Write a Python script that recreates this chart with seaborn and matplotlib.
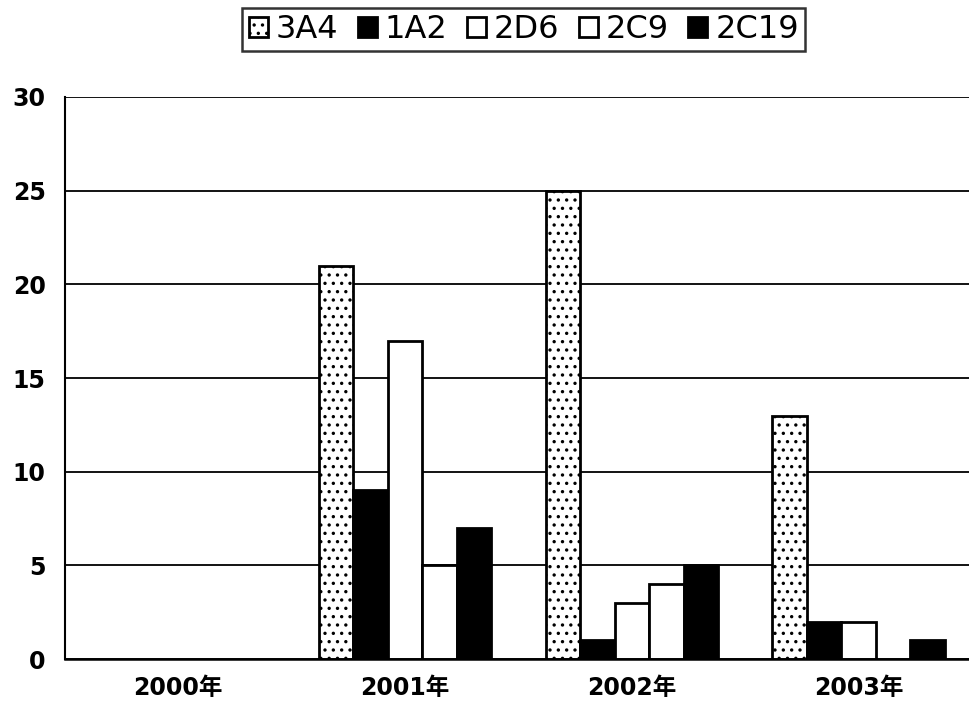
import matplotlib
matplotlib.use("Agg")
import matplotlib.pyplot as plt
import seaborn as sns
import pandas as pd

years = ["2000年", "2001年", "2002年", "2003年"]
series = ["3A4", "1A2", "2D6", "2C9", "2C19"]
v_3A4 = [0, 21, 25, 13]
v_1A2 = [0, 9, 1, 2]
v_2D6 = [0, 17, 3, 2]
v_2C9 = [0, 5, 4, 0]
v_2C19 = [0, 7, 5, 1]
values = {"3A4": v_3A4, "1A2": v_1A2, "2D6": v_2D6, "2C9": v_2C9, "2C19": v_2C19}
y_ticks = [0, 5, 10, 15, 20, 25, 30]

rows = []
for s in series:
    for y, v in zip(years, values[s]):
        rows.append({"year": y, "enzyme": s, "count": v})
df = pd.DataFrame(rows)

sns.set_theme(style="white")
plt.rcParams["font.family"] = ["DejaVu Sans", "Noto Sans CJK JP"]
plt.rcParams["hatch.linewidth"] = 1.2
plt.rcParams["text.color"] = "black"
plt.rcParams["xtick.color"] = "black"
plt.rcParams["ytick.color"] = "black"
plt.rcParams["xtick.labelcolor"] = "black"
plt.rcParams["ytick.labelcolor"] = "black"

fig = plt.figure(figsize=(9.7, 7.18), dpi=100)
ax = fig.add_axes([0.067, 0.082, 0.935, 0.783])

sns.barplot(data=df, x="year", y="count", hue="enzyme", order=years,
            hue_order=series, width=0.76, ax=ax, legend=False, gap=0)

styles = {
    "3A4": dict(fc="white", hatch=".."),
    "1A2": dict(fc="black", hatch=None),
    "2D6": dict(fc="white", hatch=None),
    "2C9": dict(fc="white", hatch=None),
    "2C19": dict(fc="black", hatch=None),
}
for cont, s in zip(ax.containers, series):
    for p in cont.patches:
        p.set_facecolor(styles[s]["fc"])
        p.set_edgecolor("black")
        p.set_linewidth(2)
        p.set_alpha(1)
        if styles[s]["hatch"]:
            p.set_hatch(styles[s]["hatch"])
        if p.get_height() == 0:
            p.set_visible(False)

ax.set_ylim(0, 30)
ax.set_xlim(-0.5, 3.5)
ax.set_yticks(y_ticks)
ax.set_yticklabels([str(t) for t in y_ticks], fontsize=17, fontweight="bold",
                   family=["DejaVu Sans"], color="black")
ax.set_xticks(range(len(years)))
ax.set_xticklabels(years, fontsize=17, fontweight="bold",
                   family=["DejaVu Sans", "Noto Sans CJK JP"], color="black")
ax.tick_params(axis="x", length=0, pad=12)
ax.tick_params(axis="y", length=0, pad=14)
# category boundary ticks
ax.set_xticks([0.5, 1.5, 2.5], minor=True)
ax.tick_params(axis="x", which="minor", length=8, width=1.5, color="black", direction="in")
ax.set_xlabel("")
ax.set_ylabel("")
ax.yaxis.grid(True, color="black", linewidth=1.3)
ax.set_axisbelow(True)
for side in ["right", "top"]:
    ax.spines[side].set_visible(False)
ax.spines["left"].set_color("black")
ax.spines["left"].set_linewidth(1.5)
ax.spines["bottom"].set_color("black")
ax.spines["bottom"].set_linewidth(1.8)

handles = [c.patches[1] for c in ax.containers]
leg = fig.legend(handles, series, loc="center", bbox_to_anchor=(0.54, 0.959), ncol=5,
                 frameon=True, fancybox=False, edgecolor="black",
                 handlelength=0.6, handleheight=0.6, handletextpad=0.25,
                 columnspacing=0.6, borderpad=0.2, borderaxespad=0,
                 prop={"family": "DejaVu Sans", "size": 23})
leg.get_frame().set_linewidth(1.8)
for t in leg.get_texts():
    t.set_color("black")

fig.savefig("out.png", dpi=100)
